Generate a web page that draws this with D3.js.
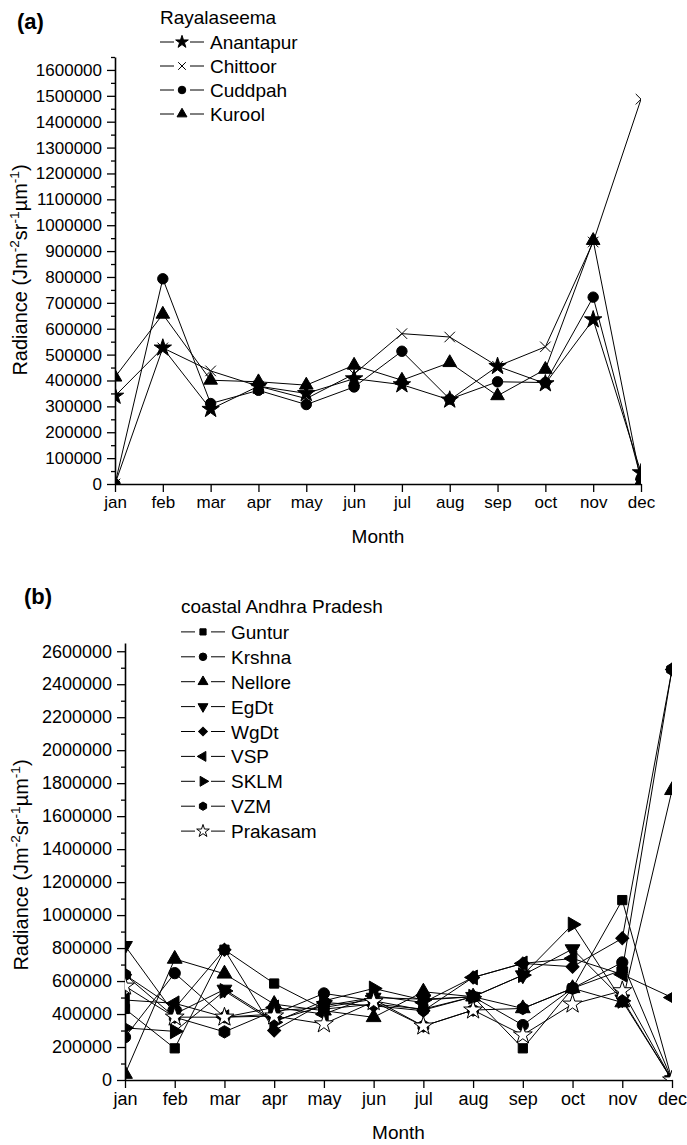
<!DOCTYPE html>
<html>
<head>
<meta charset="utf-8">
<script src="https://cdn.jsdelivr.net/npm/d3@7/dist/d3.min.js"></script>
<style>
  html, body { margin: 0; padding: 0; background: #fff; }
  svg { display: block; font-family: "Liberation Sans", Arial, sans-serif; }
</style>
</head>
<body>
<svg id="chart" width="687" height="1145"></svg>
<script>
// Month categories shared by both panels
const months = ["jan", "feb", "mar", "apr", "may", "jun", "jul", "aug", "sep", "oct", "nov", "dec"];

// (a) Rayalaseema districts
const anantapur = [340000, 526000, 289000, 378000, 350000, 407000, 384000, 325000, 455000, 388000, 635000, 44000];
const chittoor  = [0, 526000, 437000, 378000, 330000, 425000, 581000, 568000, 455000, 530000, 935000, 1487000];
const cuddpah   = [0, 793000, 311000, 362000, 307000, 375000, 513000, 328000, 395000, 392000, 722000, 20000];
const kurool    = [413000, 656000, 401000, 395000, 382000, 459000, 401000, 469000, 341000, 443000, 941000, 8000];
const ticksA = [0, 100000, 200000, 300000, 400000, 500000, 600000, 700000, 800000, 900000,
                1000000, 1100000, 1200000, 1300000, 1400000, 1500000, 1600000];

// (b) coastal Andhra Pradesh districts
const guntur   = [431000, 192000, 790000, 585000, 430000, 460000, 430000, 505000, 192000, 556000, 1091000, 0];
const krshna   = [260000, 648000, 381000, 400000, 525000, 480000, 424000, 505000, 333000, 556000, 713000, 0];
const nellore  = [36000, 734000, 644000, 460000, 420000, 380000, 535000, 505000, 434000, 556000, 470000, 1757000];
const egdt     = [814000, 400000, 549000, 360000, 450000, 500000, 490000, 505000, 636000, 794000, 490000, 0];
const wgdt     = [638000, 435000, 790000, 300000, 470000, 450000, 420000, 622000, 707000, 687000, 859000, 2490000];
const vsp      = [485000, 465000, 381000, 440000, 400000, 510000, 470000, 622000, 707000, 737000, 640000, 500000];
const sklm     = [316000, 295000, 540000, 350000, 480000, 555000, 485000, 505000, 636000, 943000, 480000, 0];
const vzm      = [638000, 381000, 292000, 420000, 440000, 490000, 327000, 424000, 434000, 556000, 667000, 2490000];
const prakasam = [569000, 381000, 381000, 388000, 340000, 475000, 327000, 424000, 273000, 460000, 541000, 0];
const ticksB = [0, 200000, 400000, 600000, 800000, 1000000, 1200000, 1400000, 1600000,
                1800000, 2000000, 2200000, 2400000, 2600000];

// ---- marker shapes ----
const hexagon = {
  draw(ctx, size) {
    const r = Math.sqrt(size / (1.5 * Math.sqrt(3)));
    for (let i = 0; i < 6; i++) {
      const a = Math.PI / 6 + i * Math.PI / 3;
      const x = r * Math.cos(a), y = r * Math.sin(a);
      if (i === 0) ctx.moveTo(x, y); else ctx.lineTo(x, y);
    }
    ctx.closePath();
  }
};
const cross = {
  draw(ctx, size) {
    const r = Math.sqrt(size) / 2;
    ctx.moveTo(-r, -r); ctx.lineTo(r, r);
    ctx.moveTo(r, -r); ctx.lineTo(-r, r);
  }
};
const shapes = {
  star:     { type: d3.symbolStar, rot: 0, fill: "#000", scale: 1.1 },
  cross:    { type: cross, rot: 0, fill: "none", scale: 1.3 },
  circle:   { type: d3.symbolCircle, rot: 0, fill: "#000", scale: 1.0 },
  up:       { type: d3.symbolTriangle, rot: 0, fill: "#000", scale: 0.95 },
  down:     { type: d3.symbolTriangle, rot: 180, fill: "#000", scale: 0.95 },
  left:     { type: d3.symbolTriangle, rot: -90, fill: "#000", scale: 0.95 },
  right:    { type: d3.symbolTriangle, rot: 90, fill: "#000", scale: 0.95 },
  square:   { type: d3.symbolSquare, rot: 0, fill: "#000", scale: 0.85 },
  diamond:  { type: d3.symbolSquare, rot: 45, fill: "#000", scale: 0.85 },
  hexagon:  { type: hexagon, rot: 0, fill: "#000", scale: 1.0 },
  openstar: { type: d3.symbolStar, rot: 0, fill: "#fff", scale: 1.1 }
};

function drawMarker(g, shapeName, x, y, size) {
  const s = shapes[shapeName];
  g.append("path")
    .attr("d", d3.symbol().type(s.type).size(size * s.scale)())
    .attr("transform", `translate(${x},${y}) rotate(${s.rot})`)
    .attr("fill", s.fill)
    .attr("stroke", "#000")
    .attr("stroke-width", 1);
}

const svg = d3.select("#chart");

function yLabel(g, x, y, size) {
  const sup = size * 0.68;
  const t = g.append("text")
    .attr("transform", `translate(${x},${y}) rotate(-90)`)
    .attr("text-anchor", "middle")
    .attr("font-size", size);
  t.append("tspan").text("Radiance (Jm");
  t.append("tspan").attr("font-size", sup).attr("dy", -size * 0.42).text("-2");
  t.append("tspan").attr("dy", size * 0.42).text("sr");
  t.append("tspan").attr("font-size", sup).attr("dy", -size * 0.42).text("-1");
  t.append("tspan").attr("dy", size * 0.42).text("\u00b5m");
  t.append("tspan").attr("font-size", sup).attr("dy", -size * 0.42).text("-1");
  t.append("tspan").attr("dy", size * 0.42).text(")");
}

function panel(cfg) {
  const g = svg.append("g");
  const x = d3.scalePoint().domain(months).range([cfg.x0, cfg.x1]).padding(0);
  const y = d3.scaleLinear().domain([0, cfg.yMax]).range([cfg.y0, cfg.yTop]);

  // minor ticks halfway between majors
  const step = cfg.ticks[1] - cfg.ticks[0];
  const minors = cfg.ticks.map(t => t + step / 2).filter(t => t <= cfg.yMax);
  g.append("g")
    .attr("transform", `translate(${cfg.x0},0)`)
    .call(d3.axisLeft(y).tickValues(minors).tickSize(4).tickFormat(""))
    .call(a => a.select(".domain").remove())
    .call(a => a.selectAll("line").attr("stroke-width", 1.3));

  const ya = g.append("g")
    .attr("transform", `translate(${cfg.x0},0)`)
    .call(d3.axisLeft(y).tickValues(cfg.ticks).tickSize(8).tickSizeOuter(0).tickPadding(5).tickFormat(d3.format("d")));
  ya.select(".domain").attr("stroke-width", 1.6);
  ya.selectAll(".tick line").attr("stroke-width", 1.3);
  ya.selectAll("text").attr("font-size", cfg.tickFont).attr("fill", "#000")
    .attr("font-family", "Liberation Sans, Arial, sans-serif");

  const xa = g.append("g")
    .attr("transform", `translate(0,${cfg.y0})`)
    .call(d3.axisBottom(x).tickSize(8).tickSizeOuter(0).tickPadding(4));
  xa.select(".domain").attr("stroke-width", 1.6);
  xa.selectAll(".tick line").attr("stroke-width", 1.3);
  xa.selectAll("text").attr("font-size", cfg.tickFont).attr("fill", "#000")
    .attr("font-family", "Liberation Sans, Arial, sans-serif");

  g.append("text").attr("x", (cfg.x0 + cfg.x1) / 2).attr("y", cfg.y0 + 59)
    .attr("text-anchor", "middle").attr("font-size", 19).text("Month");
  yLabel(g, cfg.yLabelX, cfg.yLabelY, 20);

  g.append("text").attr("x", cfg.tagX).attr("y", cfg.tagY)
    .attr("font-size", 22).attr("font-weight", "bold").text(cfg.tag);

  // plot clipping
  const clipId = "clip-" + cfg.tag.replace(/[()]/g, "");
  svg.append("clipPath").attr("id", clipId).append("rect")
    .attr("x", cfg.x0).attr("y", cfg.yTop).attr("width", cfg.x1 - cfg.x0).attr("height", cfg.y0 - cfg.yTop);
  const plot = g.append("g").attr("clip-path", `url(#${clipId})`);

  const line = d3.line().x((d, i) => x(months[i])).y(d => y(d));
  cfg.series.forEach(s => {
    plot.append("path").datum(s.values).attr("d", line)
      .attr("fill", "none").attr("stroke", "#000").attr("stroke-width", 1);
    s.values.forEach((v, i) => drawMarker(plot, s.shape, x(months[i]), y(v), cfg.markerSize));
  });

  // legend
  const lg = g.append("g");
  lg.append("text").attr("x", cfg.legX).attr("y", cfg.legY).attr("font-size", 19).text(cfg.legTitle);
  cfg.series.forEach((s, i) => {
    const cy = cfg.legY + cfg.legStep * (i + 1) - 6;
    lg.append("line").attr("x1", cfg.legX).attr("x2", cfg.legX + 14).attr("y1", cy).attr("y2", cy)
      .attr("stroke", "#000").attr("stroke-width", 1);
    lg.append("line").attr("x1", cfg.legX + 30).attr("x2", cfg.legX + 44).attr("y1", cy).attr("y2", cy)
      .attr("stroke", "#000").attr("stroke-width", 1);
    drawMarker(lg, s.shape, cfg.legX + 22, cy, cfg.legMarker);
    lg.append("text").attr("x", cfg.legX + 50).attr("y", cy + 7).attr("font-size", 19).text(s.name);
  });
}

panel({
  tag: "(a)", tagX: 17, tagY: 29,
  x0: 115, x1: 641, y0: 484, yTop: 57, yMax: 1650000, ticks: ticksA, tickFont: 17,
  yLabelX: 27, yLabelY: 270, markerSize: 85, legMarker: 45,
  legX: 160, legY: 24, legStep: 24, legTitle: "Rayalaseema",
  series: [
    { name: "Anantapur", shape: "star", values: anantapur },
    { name: "Chittoor", shape: "cross", values: chittoor },
    { name: "Cuddpah", shape: "circle", values: cuddpah },
    { name: "Kurool", shape: "up", values: kurool }
  ]
});

panel({
  tag: "(b)", tagX: 24, tagY: 604,
  x0: 125, x1: 672, y0: 1080, yTop: 643, yMax: 2650000, ticks: ticksB, tickFont: 18,
  yLabelX: 28, yLabelY: 865, markerSize: 100, legMarker: 45,
  legX: 181, legY: 613, legStep: 24.9, legTitle: "coastal Andhra Pradesh",
  series: [
    { name: "Guntur", shape: "square", values: guntur },
    { name: "Krshna", shape: "circle", values: krshna },
    { name: "Nellore", shape: "up", values: nellore },
    { name: "EgDt", shape: "down", values: egdt },
    { name: "WgDt", shape: "diamond", values: wgdt },
    { name: "VSP", shape: "left", values: vsp },
    { name: "SKLM", shape: "right", values: sklm },
    { name: "VZM", shape: "hexagon", values: vzm },
    { name: "Prakasam", shape: "openstar", values: prakasam }
  ]
});
</script>
</body>
</html>
